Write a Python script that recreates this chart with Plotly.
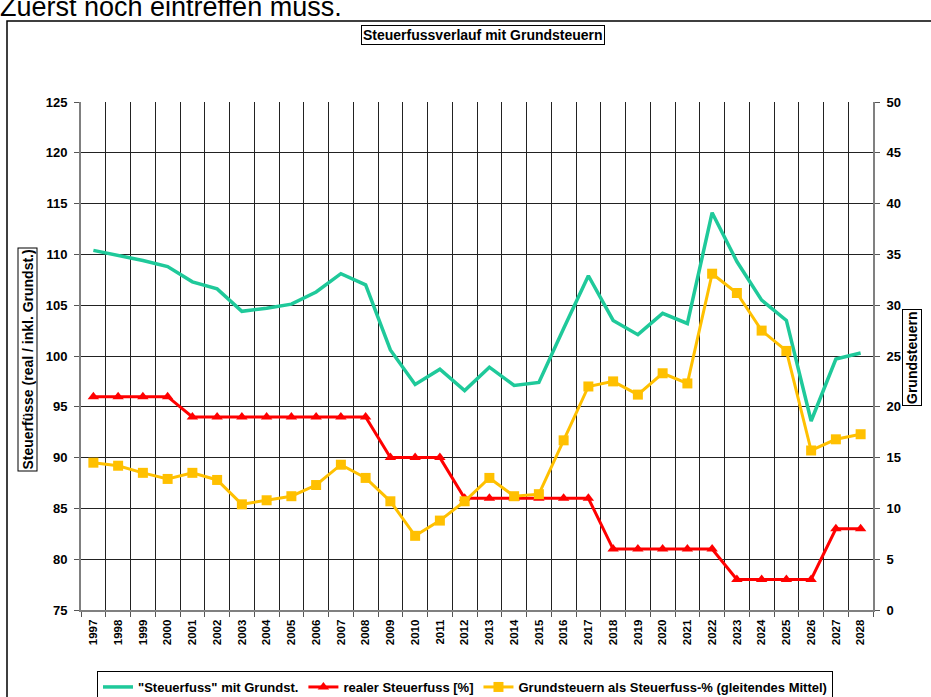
import plotly.graph_objects as go

years = [str(y) for y in range(1997, 2029)]

steuerfuss_mit_grundst = [110.4, 109.9, 109.4, 108.8, 107.3, 106.6, 104.4, 104.7, 105.1, 106.3,
                          108.1, 107.0, 100.6, 97.2, 98.7, 96.6, 98.9, 97.1, 97.4, 102.7,
                          107.9, 103.5, 102.1, 104.2, 103.2, 114.1, 109.3, 105.5, 103.5, 93.6,
                          99.7, 100.3]

realer_steuerfuss = [96, 96, 96, 96, 94, 94, 94, 94, 94, 94,
                     94, 94, 90, 90, 90, 86, 86, 86, 86, 86,
                     86, 81, 81, 81, 81, 81, 78, 78, 78, 78,
                     83, 83]

grundsteuern_pct = [14.5, 14.2, 13.5, 12.9, 13.5, 12.8, 10.4, 10.8, 11.2, 12.3,
                    14.3, 13.0, 10.7, 7.3, 8.8, 10.7, 13.0, 11.2, 11.4, 16.7,
                    22.0, 22.5, 21.2, 23.3, 22.3, 33.1, 31.2, 27.5, 25.5, 15.7,
                    16.8, 17.3]

left_ticks = [75, 80, 85, 90, 95, 100, 105, 110, 115, 120, 125]
right_ticks = [0, 5, 10, 15, 20, 25, 30, 35, 40, 45, 50]

FONT = "Liberation Sans, Arial, sans-serif"
GREEN = "#1FC99A"
RED = "#FF0000"
YELLOW = "#FFC000"

W, H = 931, 697
L, R, T, B = 81, 58, 102, 87
PW, PH = W - L - R, H - T - B


def px(x):
    return (x - L) / PW


def py(y):
    return (H - B - y) / PH


fig = go.Figure()
fig.add_trace(go.Scatter(x=years, y=steuerfuss_mit_grundst, mode="lines",
                         name='"Steuerfuss" mit Grundst.',
                         line=dict(color=GREEN, width=3.5)))
fig.add_trace(go.Scatter(x=years, y=realer_steuerfuss, mode="lines+markers",
                         name="realer Steuerfuss [%]",
                         line=dict(color=RED, width=3),
                         marker=dict(symbol="triangle-up", size=10, color=RED)))
fig.add_trace(go.Scatter(x=years, y=grundsteuern_pct, mode="lines+markers",
                         name="Grundsteuern als Steuerfuss-% (gleitendes Mittel)",
                         line=dict(color=YELLOW, width=3),
                         marker=dict(symbol="square", size=10, color=YELLOW),
                         yaxis="y2"))

fig.update_layout(
    width=W, height=H,
    margin=dict(l=L, r=R, t=T, b=B, autoexpand=False),
    paper_bgcolor="white", plot_bgcolor="white",
    font=dict(family=FONT, color="black"),
    showlegend=True,
    legend=dict(orientation="h", x=px(97), xanchor="left", y=py(671), yanchor="top",
                bordercolor="black", borderwidth=1, bgcolor="white",
                font=dict(size=13, family=FONT, weight="bold"),
                itemwidth=30, traceorder="normal"),
    xaxis=dict(type="category", range=[-0.5, len(years) - 0.5], tickson="boundaries",
               showgrid=True, gridcolor="#222222", gridwidth=1,
               showline=True, linecolor="#808080", linewidth=2,
               ticks="outside", ticklen=5, tickcolor="#555555",
               ticklabelstandoff=3,
               tickangle=-90, tickfont=dict(size=11.5, family=FONT, weight="bold"),
               mirror=False),
    yaxis=dict(range=[75, 125], tickvals=left_ticks, showgrid=True,
               gridcolor="#222222", gridwidth=1,
               showline=True, linecolor="#808080", linewidth=2,
               ticks="outside", ticklen=5, tickcolor="#555555",
               ticklabelstandoff=4,
               tickfont=dict(size=13, family=FONT, weight="bold"),
               zeroline=False),
    yaxis2=dict(range=[0, 50], tickvals=right_ticks, overlaying="y", side="right",
                showgrid=False, showline=True, linecolor="#808080", linewidth=2,
                ticks="outside", ticklen=5, tickcolor="#555555",
                ticklabelstandoff=4,
                tickfont=dict(size=13, family=FONT, weight="bold"),
                zeroline=False),
)

# outer chart frame
fig.add_shape(type="rect", xref="paper", yref="paper",
              x0=px(7), x1=px(945), y0=py(710), y1=py(21),
              line=dict(color="black", width=1.5), fillcolor="rgba(0,0,0,0)", layer="below")

# clipped text above the chart
fig.add_annotation(text="Zuerst noch eintreffen muss.", xref="paper", yref="paper",
                   x=px(-2), y=py(24), xanchor="left", yanchor="bottom", showarrow=False,
                   font=dict(size=27, family=FONT, color="black"))

# title
fig.add_annotation(text="Steuerfussverlauf mit Grundsteuern", xref="paper", yref="paper",
                   x=px(483), y=py(35), xanchor="center", yanchor="middle", showarrow=False,
                   font=dict(size=14, family=FONT, weight="bold"),
                   bordercolor="black", borderwidth=1, borderpad=1, bgcolor="white")

# axis titles
fig.add_annotation(text="Steuerfüsse (real / inkl. Grundst.)", xref="paper", yref="paper",
                   x=px(27.5), y=py(360), xanchor="center", yanchor="middle", showarrow=False,
                   textangle=-90, font=dict(size=14, family=FONT, weight="bold"),
                   bordercolor="black", borderwidth=1, borderpad=1, bgcolor="white")
fig.add_annotation(text="Grundsteuern", xref="paper", yref="paper",
                   x=px(912), y=py(358), xanchor="center", yanchor="middle", showarrow=False,
                   textangle=-90, font=dict(size=14, family=FONT, weight="bold"),
                   bordercolor="black", borderwidth=1, borderpad=1, bgcolor="white")

fig.write_html("out.html", post_script="document.body.style.margin='0';",
               config={"displayModeBar": False})
